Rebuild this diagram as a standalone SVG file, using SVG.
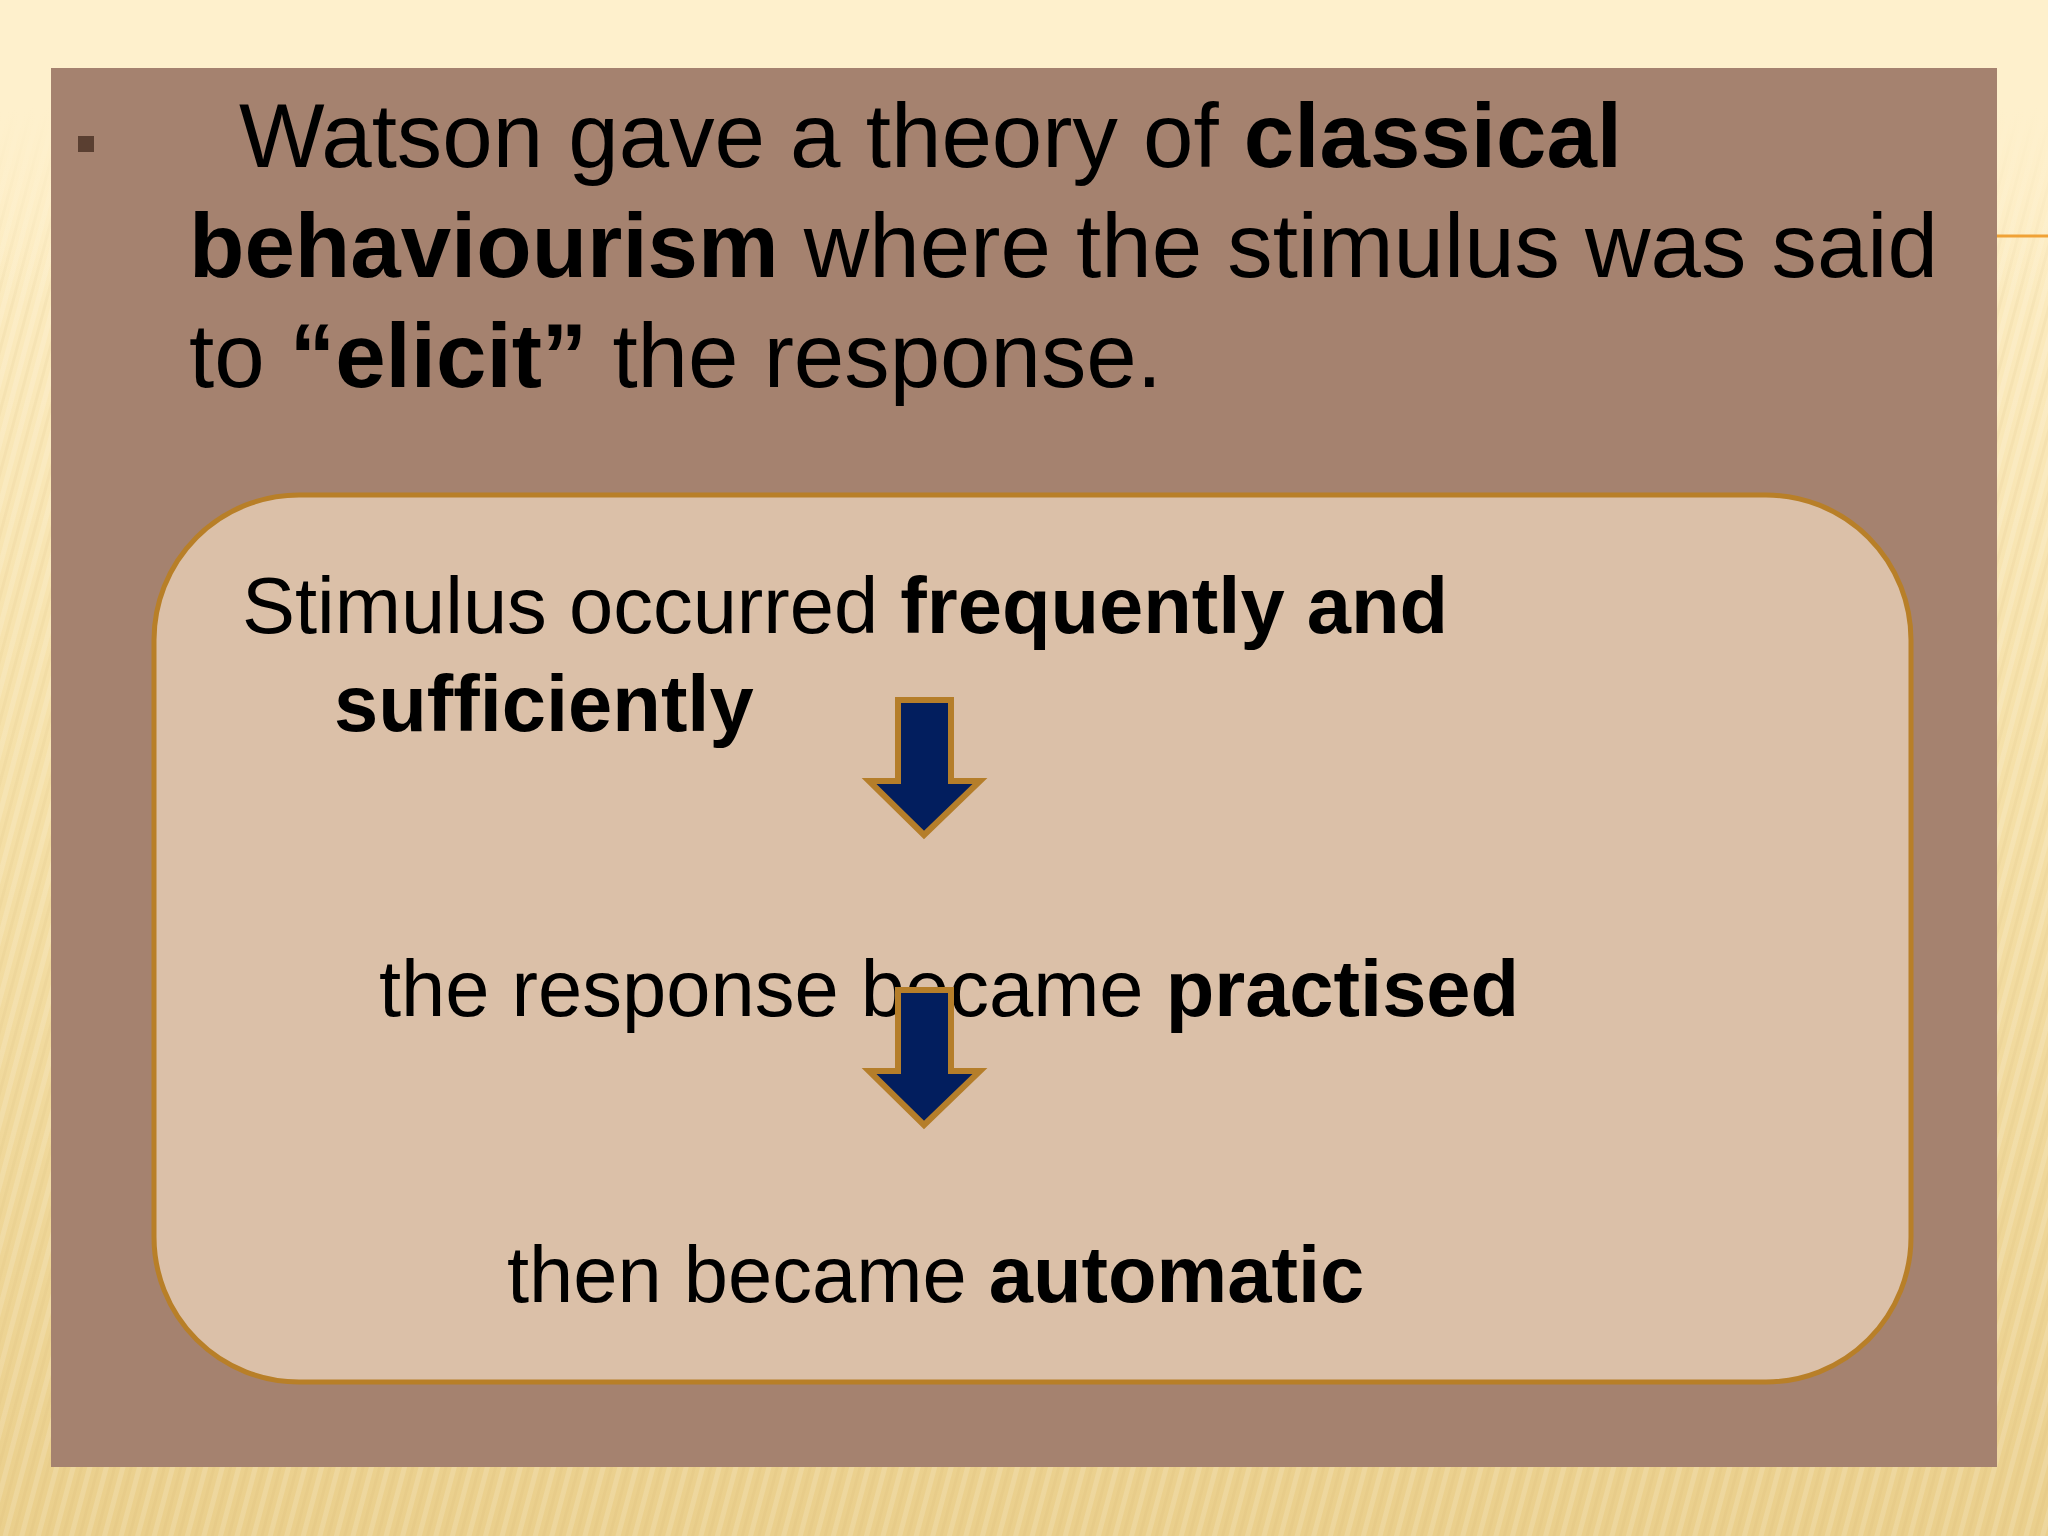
<svg xmlns="http://www.w3.org/2000/svg" width="2048" height="1536" viewBox="0 0 2048 1536">
  <defs>
    <linearGradient id="bgGrad" x1="0" y1="0" x2="0" y2="1">
      <stop offset="0" stop-color="#FEF0CC"/>
      <stop offset="0.1" stop-color="#FDEDC4"/>
      <stop offset="0.5" stop-color="#F5E0A8"/>
      <stop offset="1" stop-color="#EACF8C"/>
    </linearGradient>
    <pattern id="stripes" width="16" height="16" patternUnits="userSpaceOnUse" patternTransform="rotate(15)">
      <rect width="5" height="16" fill="#FFFFFF" fill-opacity="0.14"/>
      <rect x="9" width="3" height="16" fill="#C9A860" fill-opacity="0.09"/>
    </pattern>
    <linearGradient id="fadeTop" x1="0" y1="0" x2="0" y2="1">
      <stop offset="0" stop-color="#FEF0CC" stop-opacity="1"/>
      <stop offset="0.07" stop-color="#FEF0CC" stop-opacity="1"/>
      <stop offset="0.2" stop-color="#FEF0CC" stop-opacity="0"/>
    </linearGradient>
  </defs>
  <style>
    .t { font-family: "Liberation Sans", Arial, sans-serif; fill: #000000; }
    .title { font-size: 90.7px; }
    .body { font-size: 79.5px; }
    .b { font-weight: bold; }
    .arrow { fill: #021E5E; stroke: #B57E2A; stroke-width: 6; stroke-linejoin: miter; }
  </style>

  <!-- background -->
  <rect x="0" y="0" width="2048" height="1536" fill="url(#bgGrad)"/>
  <rect x="0" y="0" width="2048" height="1536" fill="url(#stripes)"/>
  <rect x="0" y="0" width="2048" height="1536" fill="url(#fadeTop)"/>

  <!-- accent line at right -->
  <line x1="1997" y1="236" x2="2048" y2="236" stroke="#F0A236" stroke-width="3"/>

  <!-- main panel -->
  <g id="panel">
    <rect x="51" y="68" width="1946" height="1399" fill="#A5826F"/>
    <rect x="78" y="136" width="16" height="16" fill="#5A3F31"/>
    <text class="t title" x="239" y="167">Watson gave a theory of <tspan class="b">classical</tspan></text>
    <text class="t title" x="189" y="277"><tspan class="b">behaviourism</tspan> where the stimulus was said</text>
    <text class="t title" x="189" y="387">to <tspan class="b">“elicit”</tspan> the response.</text>
  </g>

  <!-- rounded box -->
  <g id="box">
    <rect x="154" y="495" width="1757" height="887" rx="145" ry="145" fill="#DBC0A8" stroke="#B87F28" stroke-width="5"/>
  </g>

  <g id="node-stimulus">
    <text class="t body" x="242" y="633">Stimulus occurred <tspan class="b">frequently and</tspan></text>
    <text class="t body b" x="334" y="731">sufficiently</text>
  </g>

  <g id="node-practised">
    <text class="t body" x="379" y="1016">the response became <tspan class="b">practised</tspan></text>
  </g>

  <g id="node-automatic">
    <text class="t body" x="507" y="1302">then became <tspan class="b">automatic</tspan></text>
  </g>

  <!-- connectors -->
  <g id="connectors">
    <polygon class="arrow" points="898,700 951,700 951,781 980,781 924,835 869,781 898,781"/>
    <polygon class="arrow" points="898,990 951,990 951,1071 980,1071 924,1125 869,1071 898,1071"/>
  </g>
</svg>
